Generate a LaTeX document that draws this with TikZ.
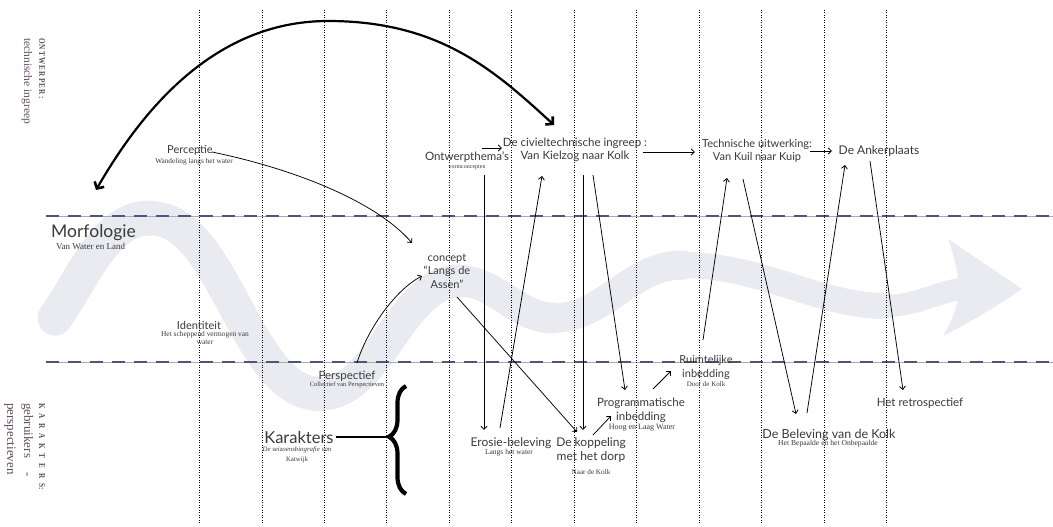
\documentclass[tikz,border=0pt]{standalone}
\usepackage{fontspec}
\setmainfont{Liberation Serif}
\newfontfamily\labfont{Lato}
\usetikzlibrary{arrows.meta,decorations.pathreplacing,calc}

\definecolor{bandgray}{RGB}{234,235,241}
\definecolor{ruledash}{RGB}{78,84,122}
\definecolor{ruleline}{RGB}{170,170,176}
\definecolor{sideink}{RGB}{98,80,98}
\definecolor{ink}{RGB}{58,58,58}

\newcommand{\fs}[2]{\fontsize{#1}{#2}\selectfont}
% narrow, letter-spaced bold capitals for the side captions
\newcommand{\spacedcaps}[2]{\scalebox{0.8}[1]{\fs{9}{10}\bfseries\def\gap{\hspace{#1}}#2}}

\begin{document}
\begin{tikzpicture}[x=1pt,y=-1pt,
  lab/.style 2 args={font=\labfont\fs{#1}{#2}, text=ink, inner sep=0pt, align=center},
  sub/.style={text=ink, inner sep=0pt, align=center},
  side/.style={text=sideink, inner sep=0pt, rotate=-90, anchor=base west},
  link/.style={draw=black, line width=0.75pt, -{Straight Barb[length=3.2pt,width=6pt,line width=0.8pt]}},
  bigarc/.style={draw=black, line width=2.2pt,
    {Straight Barb[length=5pt,width=11pt,line width=2.6pt]}-{Straight Barb[length=5pt,width=11pt,line width=2.6pt]}},
  vline/.style={draw=black, line width=0.75pt, dash pattern=on 0.8pt off 1.7pt},
  band/.style={draw=bandgray, line cap=round},
  ]

\fill[white] (0,0) rectangle (1053,527);
\useasboundingbox (0,0) rectangle (1053,527);

% the broad grey wave of the morphology, thinning towards its head
\draw[band, line width=35pt] (55,318) .. controls (84,277) and (105,218) .. (150,218);
\draw[band, line width=34pt] (150,218) .. controls (225,218) and (245,394) .. (320,394);
\draw[band, line width=33pt] (320,394) .. controls (380,394) and (400,281) .. (460,281);
\draw[band, line width=31pt] (460,281) .. controls (495,281) and (518,318) .. (553,318);
\draw[band, line width=29pt] (553,318) .. controls (605,318) and (630,265) .. (683,265);
\draw[band, line width=26pt] (683,265) .. controls (760,265) and (820,306) .. (885,306);
\draw[band, line width=22pt] (885,306) .. controls (915,306) and (935,293) .. (960,289);
\fill[bandgray] (958,278) .. controls (956,265) and (953,252) .. (948,239)
  .. controls (982,262) and (1003,276) .. (1022,289)
  .. controls (1003,302) and (978,318) .. (943,336)
  .. controls (950,325) and (955,312) .. (958,300) -- cycle;

% the two layer boundaries
\foreach \yy in {216,362} {
  \draw[ruleline, line width=0.8pt] (46,\yy) -- (1053,\yy);
  \draw[ruledash, line width=2.6pt, dash pattern=on 13pt off 9pt] (46,\yy) -- (1053,\yy);
}

% dotted time columns
\foreach \i in {0,...,11} {
  \draw[vline] ({199.5+62.45*\i},10) -- ({199.5+62.45*\i},525);
}

% side captions
\node[side] (ontwcap) at (39,38) {\spacedcaps{1.5pt}{O\gap N\gap T\gap W\gap E\gap R\gap P\gap E\gap R\gap :}};
\node[side, font=\fs{11.5}{13}] (ontwtxt) at (24,38) {technische ingreep};
\node[side] (karcap) at (39,403) {\spacedcaps{6pt}{K\gap A\gap R\gap A\gap K\gap T\gap E\gap R\gap S:}};
\node[side, font=\fs{13}{15}] (kartxt) at (24,403) {gebruikers\hspace{14pt}-};
\node[side, font=\fs{13}{15}] (kartxt2) at (7,403) {perspectieven};

% labels
\node[lab={11}{13}] (per) at (190,150) {Perceptie};
\node[sub, font=\fs{7.3}{8}] (persub) at (194,162) {Wandeling langs het water};
\node[lab={17.5}{20}, anchor=west] (morf) at (51,233) {Morfologie};
\node[sub, font=\fs{9}{10}, anchor=west] (morfsub) at (56,246) {Van Water en Land};
\node[lab={11}{13}] (iden) at (199,325) {Identiteit};
\node[sub, font=\fs{7.4}{8}] (idensub) at (205,338) {Het scheppend vermogen van\\water};
\node[lab={11.5}{13}] (pers) at (347,376) {Perspectief};
\node[sub, font=\fs{6.5}{7}] (perssub) at (347,385) {Collectief van Perspectieven};
\node[lab={16.5}{18}] (kar) at (299,437) {Karakters};
\node[sub, font=\fs{6.8}{10}] (karsub) at (297,455) {\textit{De seizoensbiografie van}\\Katwijk};
\node[lab={11}{13.5}] (conc) at (447,271) {concept\\“Langs de\\Assen”};
\node[lab={11.5}{13}] (ontw) at (467,157) {Ontwerpthema’s};
\node[sub, font=\fs{6}{7}] (ontwsub) at (467,167) {vormconcepten};
\node[lab={11.5}{13}] (civ) at (575,150) {De civieltechnische ingreep :\\Van Kielzog naar Kolk};
\node[lab={11}{13}] (tech) at (757,151) {Technische uitwerking:\\Van Kuil naar Kuip};
\node[lab={12}{13}] (anker) at (879,151) {De Ankerplaats};
\node[lab={12}{14}] (ero) at (511,443) {Erosie-beleving};
\node[sub, font=\fs{7.5}{8}] (erosub) at (509,453) {Langs het water};
\node[lab={12}{14}] (kop) at (591,450) {De koppeling\\met het dorp};
\node[sub, font=\fs{7.2}{8}] (kopsub) at (591,472) {Naar de Kolk};
\node[lab={11.5}{14}] (prog) at (641,410) {Programmatische\\inbedding};
\node[sub, font=\fs{8}{9}] (progsub) at (642,428) {Hoog en Laag Water};
\node[lab={11}{14}] (ruim) at (706,367) {Ruimtelijke\\inbedding};
\node[sub, font=\fs{7}{8}] (ruimsub) at (706,384) {Door de Kolk};
\node[lab={12.5}{14}] (bel) at (829,435) {De Beleving van de Kolk};
\node[sub, font=\fs{7.6}{8}] (belsub) at (828,444) {Het Bepaalde en het Onbepaalde};
\node[lab={11.5}{13}] (retro) at (920,403) {Het retrospectief};

% connector ends
\coordinate (arcL) at (96,190);
\coordinate (arcR) at (554,125);
\coordinate (per-out) at (212,152);
\coordinate (conc-in1) at (412,243);
\coordinate (pers-out) at (357,363);
\coordinate (conc-in2) at (422,276);
\coordinate (conc-out) at (457,297);
\coordinate (ontw-right) at (482,148);
\coordinate (civ-left) at (502,148);
\coordinate (civ-right) at (643,152);
\coordinate (tech-left) at (695,152);
\coordinate (tech-right) at (810,151);
\coordinate (anker-left) at (832,151);
\coordinate (ontw-down) at (484,175);
\coordinate (ero-in) at (484,430);
\coordinate (ero-out) at (500,428);
\coordinate (civ-in) at (542,176);
\coordinate (civ-down1) at (583,175);
\coordinate (kop-in1) at (583,430);
\coordinate (civ-down2) at (593,175);
\coordinate (prog-in1) at (625,390);
\coordinate (kop-in2) at (577,432);
\coordinate (kop-out) at (593,435);
\coordinate (prog-in2) at (611,416);
\coordinate (prog-out) at (653,389);
\coordinate (ruim-in) at (671,371);
\coordinate (ruim-out) at (703,340);
\coordinate (tech-in) at (727,178);
\coordinate (tech-down) at (743,179);
\coordinate (bel-in) at (796,414);
\coordinate (bel-out) at (807,413);
\coordinate (anker-in) at (845,165);
\coordinate (anker-down) at (870,161);
\coordinate (retro-in) at (903,390);
\coordinate (brace-top) at (406,386);
\coordinate (brace-bot) at (406,494);
\coordinate (brace-tip) at (390,437);

% the great arc between designer and morphology
\draw[bigarc] (arcL) .. controls (136,121) and (208,21) .. (328,21)
  .. controls (440,21) and (495,71) .. (arcR);

% curved links into the concept
\draw[link] (per-out) .. controls (290,168) and (375,200) .. (conc-in1);
\draw[link] (pers-out) .. controls (367,330) and (395,290) .. (conc-in2);

% straight links
\draw[link] (ontw-right) -- (civ-left);
\draw[link] (civ-right) -- (tech-left);
\draw[link] (tech-right) -- (anker-left);
\draw[link] (ontw-down) -- (ero-in);
\draw[link] (ero-out) -- (civ-in);
\draw[link] (civ-down1) -- (kop-in1);
\draw[link] (civ-down2) -- (prog-in1);
\draw[link] (conc-out) -- (kop-in2);
\draw[link] (kop-out) -- (prog-in2);
\draw[link] (prog-out) -- (ruim-in);
\draw[link] (ruim-out) -- (tech-in);
\draw[link] (tech-down) -- (bel-in);
\draw[link] (bel-out) -- (anker-in);
\draw[link] (anker-down) -- (retro-in);

% characters and their brace
\draw[line width=2.4pt] ($(kar.east)+(2,0)$) -- (brace-tip);
\draw[line width=4.2pt, decorate, decoration={brace, amplitude=17pt, aspect=0.53}] (brace-bot) -- (brace-top);

\end{tikzpicture}
\end{document}
